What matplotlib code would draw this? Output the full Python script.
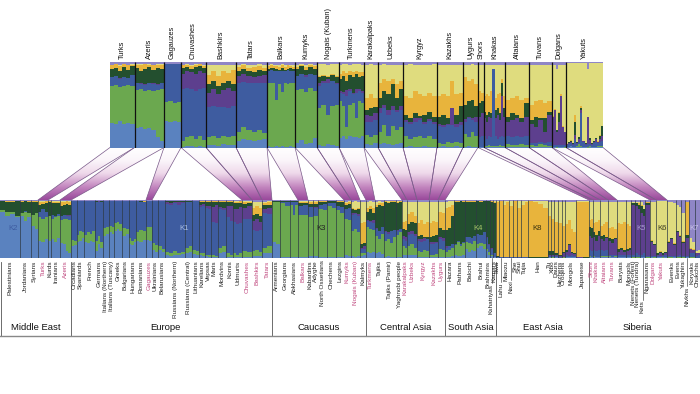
import numpy as np
import matplotlib
matplotlib.use("Agg")
import matplotlib.pyplot as plt
from matplotlib.colors import LinearSegmentedColormap
from matplotlib.patches import Polygon

plt.rcParams['font.family'] = ['Liberation Sans', 'DejaVu Sans']

# ancestry layers, bottom to top. every column below gives the cumulative top of the first 7, K7 fills to 100
layer_colors = ['#5a82bf', '#6ba84f', '#3e5ca0', '#5d3f8e', '#234f2f', '#e8b43c', '#dfdc7e', '#8f86c6']

top_names = ["Turks", "Azeris", "Gagauzes", "Chuvashes", "Bashkirs", "Tatars", "Balkars", "Kumyks",
             "Nogais (Kuban)", "Turkmens", "Karakalpaks", "Uzbeks", "Kyrgyz", "Kazakhs", "Uygurs",
             "Shors", "Khakas", "Altaians", "Tuvans", "Dolgans", "Yakuts"]
top_sizes = [24.5, 29.5, 17, 25, 30, 31, 28, 22, 22, 25, 14, 25, 34, 26, 15, 6, 21, 24, 23, 14, 37]
top_cols = [
    [(29, 72, 82, 82, 92, 96, 97), (27, 73, 84, 84, 93, 98, 98), (31, 71, 80, 81, 90, 95, 97), (28, 72, 83, 83, 94, 98, 98), (29, 73, 81, 81, 91, 96, 97), (27, 72, 85, 85, 95, 97, 98)],
    [(23, 67, 75, 76, 93, 97, 98), (24, 68, 74, 75, 90, 96, 98), (22, 66, 73, 74, 92, 98, 98), (23, 67, 76, 76, 94, 97, 98), (21, 66, 74, 75, 91, 96, 97), (12, 67, 73, 74, 93, 97, 98), (8, 68, 75, 76, 92, 97, 98)],
    [(31, 53, 98, 98, 98, 98, 98), (30, 54, 98, 98, 98, 98, 98), (31, 52, 98, 98, 98, 98, 98), (30, 53, 98, 98, 98, 98, 98)],
    [(1, 8, 68, 86, 93, 96, 97), (2, 12, 70, 89, 94, 97, 98), (2, 14, 68, 88, 92, 95, 97), (1, 10, 66, 86, 94, 96, 98), (2, 13, 68, 90, 95, 98, 98), (1, 9, 70, 87, 93, 95, 97)],
    [(3, 12, 47, 64, 74, 85, 96), (3, 14, 48, 68, 78, 90, 97), (2, 11, 47, 62, 72, 84, 97), (4, 14, 47, 67, 76, 89, 96), (3, 12, 46, 70, 78, 87, 97), (3, 13, 48, 66, 74, 91, 97)],
    [(8, 18, 76, 84, 90, 94, 97), (10, 24, 77, 86, 92, 96, 98), (9, 20, 76, 84, 90, 93, 97), (8, 18, 76, 82, 88, 94, 97), (9, 21, 75, 84, 91, 95, 98), (10, 17, 76, 85, 90, 93, 97)],
    [(2, 76, 90, 90, 92, 95, 97), (1, 75, 91, 91, 93, 96, 98), (1, 76, 90, 90, 93, 95, 97), (2, 56, 90, 90, 92, 95, 97), (1, 74, 89, 89, 91, 94, 97), (2, 65, 90, 90, 93, 97, 98), (1, 75, 90, 90, 91, 94, 96), (1, 74, 91, 91, 92, 96, 97), (2, 75, 90, 90, 93, 95, 97), (1, 75, 89, 89, 92, 94, 96)],
    [(5, 67, 84, 84, 92, 94, 97), (9, 68, 86, 86, 95, 96, 98), (4, 65, 83, 85, 91, 94, 97), (5, 70, 86, 86, 94, 96, 98), (11, 66, 85, 85, 92, 95, 97)],
    [(3, 46, 72, 76, 82, 84, 98), (2, 50, 76, 78, 84, 85, 98), (4, 38, 75, 80, 82, 84, 97), (3, 48, 78, 78, 85, 86, 98), (2, 50, 74, 76, 83, 84, 98)],
    [(11, 54, 64, 66, 80, 86, 97), (13, 48, 62, 65, 84, 90, 98), (10, 24, 60, 67, 78, 87, 98), (14, 50, 66, 68, 85, 89, 97), (12, 52, 62, 64, 82, 88, 98), (12, 34, 64, 68, 86, 90, 98), (11, 54, 66, 68, 82, 88, 98), (13, 52, 64, 66, 84, 88, 97)],
    [(4, 15, 30, 38, 44, 58, 97), (3, 12, 30, 37, 46, 62, 98), (5, 15, 32, 40, 47, 58, 97)],
    [(4, 18, 40, 46, 58, 76, 97), (5, 26, 46, 50, 66, 80, 98), (4, 14, 38, 44, 62, 78, 97), (3, 25, 44, 48, 74, 80, 96), (4, 20, 42, 44, 58, 74, 97), (5, 24, 44, 48, 68, 78, 97)],
    [(1, 13, 30, 32, 38, 60, 97), (2, 10, 28, 30, 35, 58, 98), (1, 12, 30, 34, 40, 66, 96), (1, 14, 32, 34, 37, 62, 97), (2, 11, 28, 30, 38, 60, 97), (1, 13, 31, 33, 42, 64, 97), (1, 10, 27, 30, 36, 60, 98)],
    [(1, 5, 25, 28, 36, 60, 96), (2, 4, 24, 26, 38, 62, 96), (1, 6, 26, 28, 34, 60, 97), (1, 5, 26, 46, 38, 78, 96), (2, 6, 24, 28, 38, 62, 97), (1, 5, 26, 30, 48, 64, 96)],
    [(1, 16, 30, 33, 50, 82, 97), (2, 12, 34, 36, 54, 78, 97), (1, 18, 32, 34, 56, 80, 98), (1, 14, 30, 36, 48, 74, 97)],
    [(1, 1, 12, 36, 52, 66, 97), (1, 1, 13, 40, 54, 64, 97)],
    [(1, 2, 14, 34, 42, 60, 96), (1, 2, 10, 30, 38, 62, 96), (1, 3, 14, 36, 42, 60, 96), (1, 2, 12, 34, 40, 66, 96), (1, 2, 92, 92, 92, 92, 96), (1, 2, 14, 34, 44, 58, 96), (1, 2, 10, 38, 46, 62, 96), (1, 3, 12, 32, 40, 64, 96), (1, 2, 14, 60, 76, 80, 96), (1, 2, 12, 36, 46, 60, 96)],
    [(1, 4, 13, 30, 36, 56, 97), (1, 3, 12, 32, 40, 58, 96), (1, 3, 14, 34, 38, 60, 96), (1, 4, 12, 30, 34, 55, 97), (1, 3, 13, 36, 52, 58, 96)],
    [(1, 3, 5, 28, 32, 50, 97), (1, 2, 5, 24, 36, 54, 97), (1, 4, 6, 32, 34, 56, 97), (1, 3, 5, 18, 34, 52, 97), (1, 2, 6, 38, 42, 54, 96)],
    [(1, 1, 3, 36, 36, 37, 97), (1, 1, 3, 44, 44, 45, 97), (0, 1, 3, 18, 20, 20, 92), (1, 1, 3, 30, 40, 42, 97), (1, 1, 3, 60, 58, 62, 97), (1, 1, 3, 24, 24, 25, 97), (0, 1, 3, 18, 18, 18, 97)],
    [(1, 1, 3, 4, 4, 4, 99), (1, 1, 4, 5, 6, 6, 99), (2, 2, 5, 7, 8, 9, 99), (1, 1, 3, 4, 5, 5, 99), (1, 1, 10, 15, 30, 38, 99), (1, 2, 4, 5, 6, 6, 99), (1, 4, 7, 10, 12, 12, 99), (1, 2, 40, 44, 46, 48, 99), (1, 1, 6, 8, 8, 8, 99), (1, 1, 3, 4, 5, 5, 99), (0, 1, 4, 36, 36, 36, 92), (1, 2, 4, 9, 11, 11, 99), (1, 1, 3, 4, 5, 5, 99), (1, 1, 5, 7, 8, 8, 99), (1, 1, 6, 10, 11, 11, 99), (1, 2, 5, 6, 7, 8, 99), (1, 2, 6, 10, 14, 15, 99), (1, 2, 8, 14, 25, 25, 99)],
]

pop_names = ["Palestinians", "Jordanians", "Syrians", "Turks", "Kurds", "Iranians", "Azeris",
             "Orcadians", "Spaniards", "French", "Germans", "Italians (Northern)", "Italians (Tuscany)", "Greeks",
             "Bulgarians", "Hungarians", "Romanians", "Gagauzes", "Ukrainians", "Belarusians", "Russians (Northern)",
             "Russians (Central)", "Lithuanians", "Karelians", "Vepsas", "Maris", "Mordvins", "Komis", "Udmurts",
             "Chuvashes", "Bashkirs", "Tatars",
             "Armenians", "Georgians", "Abkhasians", "Balkars", "Kabardins", "Adyghe", "North Ossetians",
             "Chechens", "Lezgins", "Kumyks", "Nogais (Kuban)", "Kalmyks",
             "Turkmens", "Tajiks", "Tajiks (Pamir)", "Yaghnobi people", "Karakalpaks", "Uzbeks", "Kyrgyz", "Kazakhs", "Uygurs",
             "Hazara", "Pathans", "Balochi", "Brahui", "Brahmins", "Kshatriyas", "Kamars",
             "Tiwa", "Lahu", "Miaozu", "Naxi", "She", "Shui", "Tujia", "Han", "Tu", "Xibo", "Daurs", "Hezhens",
             "Oroqens", "Mongols", "Japanese",
             "Shors", "Khakas", "Altaians", "Tuvans", "Buryats", "Mongols", "Nenets (Forest)", "Nenets (Tundra)",
             "Kets", "Nganasans", "Dolgans", "Yakuts", "Evenks", "Evens", "Yukaghirs", "Nivkhs", "Koryaks", "Chukchis"]
pop_sizes = [20, 11, 7, 10, 3, 9, 11,
             6, 7, 11, 8, 6, 5, 8, 7, 7, 10, 6, 6, 7, 20, 7, 7, 6, 6, 7, 8, 7, 9, 10, 10, 10,
             8, 10, 8, 10, 5, 5, 9, 9, 8, 7, 9, 6,
             9, 9, 12, 6, 5, 10, 12, 9, 7,
             9, 11, 11, 10, 4, 3, 3,
             3, 4, 6, 4, 4, 4, 7, 20, 3, 3, 4, 4, 3, 11, 13,
             4, 7, 8, 9, 9, 5, 4, 5, 5, 5, 6, 11, 9, 5, 4, 4, 6, 5]
pop_cols = [
    [(80, 82, 82, 82, 98, 99, 99), (72, 80, 80, 80, 97, 98, 99), (76, 79, 79, 79, 97, 99, 99), (70, 72, 72, 72, 98, 99, 99)],
    [(72, 78, 78, 78, 97, 98, 99), (64, 80, 81, 81, 98, 99, 99), (70, 77, 77, 77, 97, 98, 99)],
    [(55, 75, 75, 75, 97, 98, 99), (50, 77, 78, 78, 96, 98, 99)],
    [(30, 70, 80, 80, 92, 96, 98), (28, 68, 84, 84, 93, 97, 98), (32, 71, 80, 80, 94, 98, 99)],
    [(30, 72, 72, 72, 97, 98, 99)],
    [(32, 68, 74, 74, 94, 96, 98), (28, 71, 73, 73, 95, 97, 99), (34, 72, 76, 76, 94, 97, 99)],
    [(26, 66, 72, 73, 90, 96, 98), (24, 68, 74, 75, 92, 97, 98), (12, 67, 73, 74, 93, 98, 98), (8, 66, 72, 74, 92, 96, 98)],
    [(20, 31, 98, 98, 98, 99, 99), (22, 30, 98, 98, 98, 99, 99)],
    [(28, 40, 98, 98, 98, 99, 99), (30, 46, 98, 98, 98, 99, 99), (34, 44, 98, 98, 98, 99, 99)],
    [(28, 40, 98, 98, 98, 99, 99), (26, 44, 98, 98, 98, 99, 99), (30, 42, 98, 98, 98, 99, 99), (27, 46, 98, 98, 98, 99, 99)],
    [(12, 30, 96, 97, 98, 99, 99), (24, 38, 97, 98, 98, 99, 99), (18, 28, 96, 97, 98, 99, 99)],
    [(38, 52, 98, 98, 98, 99, 99), (41, 54, 98, 98, 98, 99, 99)],
    [(44, 56, 98, 98, 98, 99, 99), (42, 54, 98, 98, 98, 99, 99)],
    [(46, 60, 98, 98, 98, 99, 99), (50, 62, 98, 98, 98, 99, 99), (46, 58, 98, 98, 98, 99, 99)],
    [(38, 52, 98, 98, 98, 99, 99), (42, 50, 98, 98, 98, 99, 99)],
    [(25, 34, 98, 98, 98, 99, 99), (22, 30, 98, 98, 98, 99, 99), (27, 32, 98, 98, 98, 99, 99)],
    [(29, 44, 98, 98, 98, 99, 98), (27, 48, 97, 97, 98, 99, 98), (31, 46, 96, 96, 97, 98, 98)],
    [(31, 53, 98, 98, 98, 99, 99), (30, 54, 98, 98, 98, 99, 99)],
    [(14, 26, 98, 98, 98, 99, 99), (11, 22, 98, 98, 98, 99, 99)],
    [(13, 20, 98, 98, 98, 99, 99), (10, 16, 98, 98, 98, 99, 99)],
    [(5, 10, 93, 96, 98, 99, 99), (4, 9, 91, 95, 98, 99, 99), (6, 12, 94, 96, 98, 99, 99), (5, 9, 92, 97, 98, 99, 99), (7, 11, 94, 96, 98, 99, 99)],
    [(9, 18, 96, 97, 98, 99, 99), (10, 20, 96, 97, 98, 99, 99)],
    [(7, 13, 98, 98, 98, 99, 99), (6, 12, 98, 98, 98, 99, 99)],
    [(5, 8, 88, 92, 97, 98, 99), (4, 8, 90, 93, 97, 98, 99)],
    [(3, 5, 86, 90, 96, 98, 99), (2, 5, 84, 90, 97, 98, 99)],
    [(2, 5, 62, 88, 96, 98, 99), (2, 4, 60, 92, 97, 98, 99)],
    [(8, 18, 84, 88, 96, 98, 99), (10, 20, 82, 87, 96, 98, 99)],
    [(2, 8, 70, 90, 97, 98, 99), (2, 6, 64, 90, 96, 98, 99)],
    [(2, 9, 62, 85, 94, 96, 98), (2, 6, 58, 84, 95, 97, 98), (2, 8, 60, 88, 94, 98, 98)],
    [(2, 12, 68, 86, 93, 96, 98), (2, 10, 68, 89, 95, 97, 98)],
    [(3, 12, 48, 64, 74, 86, 96), (3, 13, 47, 67, 76, 90, 97), (3, 11, 48, 62, 72, 87, 97)],
    [(8, 18, 78, 84, 92, 95, 97), (9, 20, 76, 86, 92, 96, 98)],
    [(28, 96, 97, 97, 99, 99, 99), (24, 96, 97, 97, 99, 99, 99)],
    [(2, 94, 97, 97, 98, 99, 99), (1, 90, 97, 97, 98, 99, 99)],
    [(2, 92, 97, 97, 98, 99, 99), (1, 75, 96, 96, 98, 99, 99), (1, 92, 96, 96, 98, 99, 99)],
    [(2, 75, 90, 90, 94, 97, 99), (1, 74, 91, 91, 95, 97, 99)],
    [(3, 70, 88, 88, 93, 96, 98)],
    [(3, 72, 87, 88, 93, 96, 98)],
    [(2, 85, 92, 92, 97, 98, 99), (2, 82, 93, 93, 97, 98, 99)],
    [(1, 90, 95, 95, 98, 99, 99), (1, 86, 94, 94, 98, 99, 99)],
    [(2, 82, 90, 90, 97, 98, 99), (2, 78, 88, 88, 97, 98, 99)],
    [(5, 68, 84, 84, 92, 94, 97), (4, 66, 86, 86, 93, 96, 98)],
    [(3, 46, 74, 77, 84, 86, 97), (2, 50, 76, 78, 82, 84, 98), (3, 44, 72, 76, 85, 87, 97)],
    [(4, 8, 15, 18, 24, 60, 97), (6, 9, 16, 20, 26, 62, 96)],
    [(11, 54, 64, 66, 80, 86, 97), (9, 50, 62, 64, 84, 90, 98), (10, 48, 60, 66, 78, 86, 97)],
    [(8, 38, 50, 51, 88, 92, 97), (10, 32, 46, 47, 92, 95, 98), (7, 42, 54, 54, 90, 94, 97)],
    [(2, 30, 44, 46, 96, 98, 99), (3, 32, 42, 44, 94, 97, 99), (2, 26, 46, 47, 97, 98, 99), (2, 36, 48, 48, 96, 98, 99)],
    [(1, 40, 47, 48, 95, 97, 98), (1, 44, 50, 50, 96, 98, 99)],
    [(6, 20, 32, 38, 50, 62, 96), (5, 18, 30, 36, 48, 64, 97)],
    [(6, 20, 40, 44, 58, 76, 97), (6, 24, 42, 46, 62, 80, 97), (5, 18, 38, 42, 60, 72, 96)],
    [(1, 12, 30, 33, 38, 60, 97), (1, 10, 28, 32, 40, 66, 97), (2, 14, 30, 34, 37, 58, 96), (1, 12, 32, 33, 36, 62, 97)],
    [(1, 6, 25, 28, 36, 60, 96), (1, 5, 24, 27, 38, 64, 96), (1, 7, 26, 28, 40, 62, 97)],
    [(1, 15, 32, 36, 52, 80, 97), (1, 13, 30, 34, 48, 78, 97)],
    [(2, 10, 18, 20, 48, 86, 97), (2, 14, 20, 20, 52, 88, 98), (3, 18, 24, 25, 72, 92, 98)],
    [(5, 22, 24, 24, 97, 98, 99), (4, 28, 30, 30, 96, 98, 99), (3, 20, 24, 24, 98, 99, 99), (6, 26, 28, 28, 97, 98, 99)],
    [(16, 28, 36, 36, 96, 98, 99), (10, 26, 36, 37, 97, 98, 99), (14, 24, 34, 34, 97, 99, 99), (12, 30, 38, 38, 96, 98, 99)],
    [(18, 24, 42, 42, 98, 99, 99), (20, 26, 40, 40, 97, 99, 99), (16, 24, 44, 44, 98, 99, 99)],
    [(12, 16, 34, 36, 99, 99, 99), (6, 10, 22, 24, 98, 99, 99)],
    [(4, 6, 16, 18, 96, 98, 99)],
    [(1, 2, 8, 8, 94, 96, 99)],
    [(0, 0, 1, 2, 4, 96, 99)],
    [(0, 0, 1, 1, 1, 98, 99)],
    [(0, 0, 1, 1, 1, 92, 99), (0, 0, 1, 1, 2, 97, 99)],
    [(0, 0, 1, 1, 1, 90, 99)],
    [(0, 0, 1, 1, 1, 98, 99)],
    [(0, 0, 1, 1, 1, 86, 99)],
    [(0, 0, 1, 1, 1, 92, 99), (0, 0, 1, 1, 2, 97, 99)],
    [(0, 0, 0, 0, 1, 98, 99), (0, 0, 0, 0, 1, 97, 99), (0, 0, 0, 0, 1, 93, 99), (0, 0, 0, 0, 1, 86, 98)],
    [(1, 2, 4, 6, 12, 72, 96)],
    [(0, 1, 3, 5, 12, 68, 96)],
    [(1, 2, 4, 6, 8, 62, 96)],
    [(0, 0, 2, 4, 5, 60, 97)],
    [(0, 1, 2, 8, 10, 55, 97)],
    [(1, 2, 5, 10, 13, 58, 97), (1, 2, 4, 22, 24, 66, 96), (1, 2, 6, 8, 10, 50, 97), (1, 2, 4, 7, 8, 45, 97)],
    [(0, 0, 0, 1, 1, 96, 99), (0, 0, 0, 0, 1, 97, 99)],
    [(2, 3, 14, 38, 54, 66, 96), (1, 2, 12, 34, 52, 68, 96)],
    [(2, 3, 14, 36, 44, 60, 96), (1, 2, 12, 30, 40, 62, 96), (2, 2, 14, 38, 46, 66, 96)],
    [(1, 3, 13, 32, 38, 56, 97), (1, 3, 12, 30, 40, 58, 96), (1, 3, 14, 34, 36, 62, 96)],
    [(1, 3, 6, 30, 34, 52, 97), (1, 2, 6, 26, 32, 54, 96), (1, 3, 6, 32, 34, 50, 97)],
    [(1, 2, 5, 10, 15, 60, 97), (1, 2, 6, 14, 17, 58, 96), (1, 2, 5, 10, 13, 62, 97)],
    [(1, 2, 6, 12, 16, 58, 97), (1, 2, 6, 14, 18, 56, 96)],
    [(0, 1, 6, 92, 94, 94, 97)],
    [(0, 1, 8, 90, 94, 95, 97), (0, 1, 6, 84, 92, 94, 97)],
    [(1, 2, 6, 78, 90, 92, 96), (1, 2, 8, 72, 84, 85, 92)],
    [(0, 1, 3, 92, 95, 96, 97)],
    [(1, 1, 3, 28, 30, 31, 97), (0, 1, 3, 22, 25, 25, 96)],
    [(1, 1, 4, 6, 8, 9, 98), (1, 2, 4, 8, 10, 12, 98), (0, 1, 3, 6, 8, 9, 98), (1, 1, 5, 9, 10, 11, 98)],
    [(0, 1, 4, 26, 28, 30, 97), (0, 1, 3, 32, 34, 35, 96), (1, 1, 4, 22, 24, 26, 94)],
    [(0, 1, 4, 44, 46, 46, 92), (0, 1, 5, 36, 38, 40, 88)],
    [(0, 1, 3, 26, 28, 30, 78)],
    [(1, 2, 4, 34, 40, 96, 97)],
    [(0, 1, 8, 16, 16, 18, 34), (0, 1, 8, 13, 14, 15, 28)],
    [(0, 0, 4, 8, 8, 8, 12), (0, 0, 6, 8, 8, 9, 14)],
]

group_names = ["Middle East", "Europe", "Caucasus", "Central Asia", "South Asia", "East Asia", "Siberia"]
group_counts = [7, 25, 12, 9, 7, 15, 18]

# which bottom population each connector lands on, by position in pop_names
top_to_pop = {"Turks": 3, "Azeris": 6, "Gagauzes": 17, "Chuvashes": 29, "Bashkirs": 30, "Tatars": 31, "Balkars": 35,
              "Kumyks": 41, "Nogais (Kuban)": 42, "Turkmens": 44, "Karakalpaks": 48, "Uzbeks": 49, "Kyrgyz": 50,
              "Kazakhs": 51, "Uygurs": 52, "Shors": 75, "Khakas": 76, "Altaians": 77, "Tuvans": 78, "Dolgans": 85,
              "Yakuts": 86}

# labels pushed below the others, with a leader line up to the bar
label_drop = {"Kshatriyas": 23, "Lahu": 22, "Naxi": 20, "Kets": 40, "Nivkhs": 26}
panel_marks = [("K2", 13, '#3e5ca0'), ("K1", 184, '#a9bde0'), ("K3", 321, '#222222'), ("K4", 478, '#a8c46a'),
               ("K8", 537, '#3a3210'), ("K5", 641, '#a89ad0'), ("K6", 662, '#3a3a20'), ("K7", 694, '#c9c3e6')]


def draw_panel(ax, sizes, cols, sep_color, sep_lw):
    # one bar per column, population width shared between its columns
    x, w, rows = [], [], []
    left = 0
    for size, col in zip(sizes, cols):
        for i, c in enumerate(col):
            x.append(left + i * size / len(col))
            w.append(size / len(col))
            rows.append(list(c) + [100])
        left += size
    rows = np.maximum.accumulate(np.array(rows, dtype=float), axis=1)
    bottom = np.zeros(len(x))
    for k, color in enumerate(layer_colors):
        ax.bar(x, rows[:, k] - bottom, width=w, bottom=bottom, align='edge', color=color,
               linewidth=0, antialiased=False)
        bottom = rows[:, k]
    edges = np.concatenate([[0], np.cumsum(sizes)])
    ax.vlines(edges[1:-1], 0, 100, color=sep_color, lw=sep_lw)
    ax.set_xlim(0, edges[-1])
    ax.set_ylim(0, 100)
    ax.axis('off')
    return edges


W, H = 700, 394
fig = plt.figure(figsize=(7, 3.94), dpi=100)
over = fig.add_axes([0, 0, 1, 1], zorder=0)
over.axis('off')
ax_top = fig.add_axes([110 / W, 1 - 147.5 / H, 493 / W, 85.5 / H], zorder=2)
ax_bot = fig.add_axes([0, 1 - 258 / H, 1, 58 / H], zorder=2)

top_edges = draw_panel(ax_top, top_sizes, top_cols, '#111111', 0.9)
pop_edges = draw_panel(ax_bot, pop_sizes, pop_cols, '#2e3a44', 0.5)

# connectors, white at the top panel to purple at the bottom panel
fade = LinearSegmentedColormap.from_list('fade', ['#ffffff', '#fbf5fa', '#eed8ea', '#c488c0', '#9a4a9c'])
ramp = np.linspace(0, 1, 64).reshape(-1, 1)
for i, name in enumerate(top_names):
    j = top_to_pop[name]
    tl, tr = 110 + top_edges[i], 110 + top_edges[i + 1]
    bl, br = pop_edges[j], pop_edges[j + 1]
    poly = Polygon([(tl, 147.5), (tr, 147.5), (br, 200), (bl, 200)], closed=True, transform=over.transData,
                   facecolor='none', edgecolor='none')
    over.add_patch(poly)
    im = over.imshow(ramp, extent=(0, W, 200, 147.5), cmap=fade, aspect='auto', zorder=1)
    im.set_clip_path(poly)
    over.plot([tl, bl], [147.5, 200], color='#7a5a8a', lw=0.5, zorder=2)
    over.plot([tr, br], [147.5, 200], color='#7a5a8a', lw=0.5, zorder=2)
over.set_xlim(0, W)
over.set_ylim(H, 0)

for i, name in enumerate(top_names):
    over.text(110 + (top_edges[i] + top_edges[i + 1]) / 2, 59, name, rotation=90, ha='center', va='bottom',
              fontsize=5.3, color='#111111')

for i, name in enumerate(pop_names):
    cx = (pop_edges[i] + pop_edges[i + 1]) / 2
    drop = label_drop.get(name, 0)
    color = '#c0487f' if name in top_names else '#222222'
    over.text(cx, 260.5 + drop, name, rotation=90, ha='center', va='top', fontsize=4.6, color=color)
    if drop:
        over.plot([cx, cx], [258, 260 + drop], color='#222222', lw=0.4)

for label, px, color in panel_marks:
    ax_bot.text(px, 50, label, ha='center', va='center', fontsize=5.6, color=color, zorder=5)

bounds = pop_edges[np.concatenate([[0], np.cumsum(group_counts)])]
for b in bounds[:-1]:
    over.plot([max(b, 0.5), max(b, 0.5)], [262, 336], color='#555555', lw=0.6, zorder=2)
over.plot([699.5, 699.5], [262, 336], color='#888888', lw=0.6)
over.plot([0, W], [336, 336], color='#888888', lw=1.0)
for name, a, b in zip(group_names, bounds[:-1], bounds[1:]):
    shift = {"Europe": -6, "Siberia": -7}.get(name, 0)
    over.text((a + b) / 2 + shift, 327, name, ha='center', va='center', fontsize=6.8, color='#111111')

fig.savefig('out.png', dpi=100)
